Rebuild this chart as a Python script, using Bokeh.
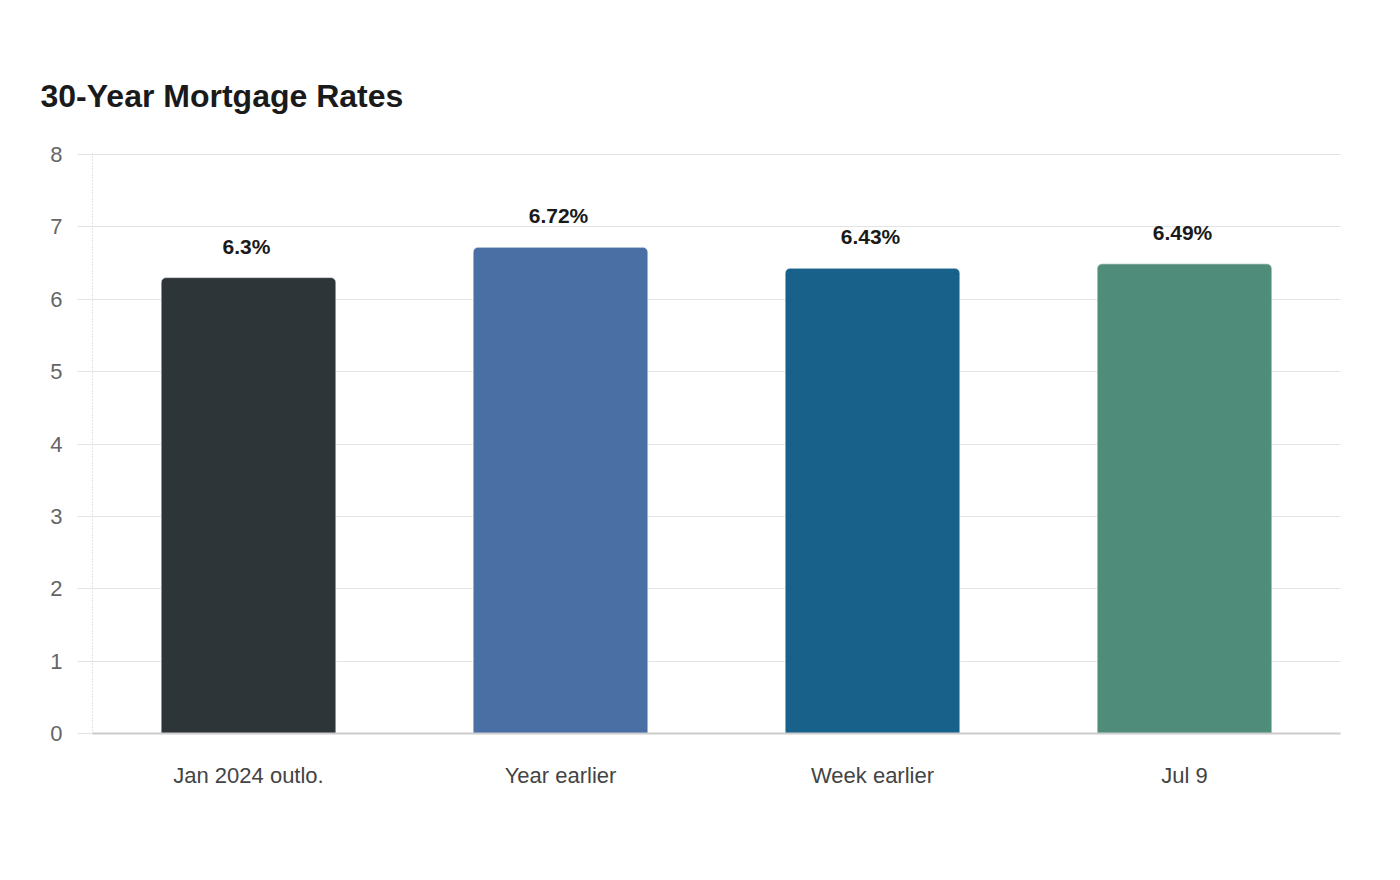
from bokeh.plotting import figure
from bokeh.models import ColumnDataSource, Range1d, FactorRange, FixedTicker
from bokeh.core.properties import value
from bokeh.embed import file_html
from bokeh.resources import INLINE

categories = ["Jan 2024 outlo.", "Year earlier", "Week earlier", "Jul 9"]
rates = [6.3, 6.72, 6.43, 6.49]
rate_labels = ["6.3%", "6.72%", "6.43%", "6.49%"]
bar_colors = ["#2e3538", "#4a6fa5", "#18618a", "#4f8c7a"]
y_ticks = [0, 1, 2, 3, 4, 5, 6, 7, 8]

src = ColumnDataSource(dict(cat=categories, rate=rates, label=rate_labels, color=bar_colors))

FONT = "Liberation Sans"

p = figure(
    width=1400, height=880,
    x_range=FactorRange(*categories, range_padding=0),
    y_range=Range1d(0, 8.015),
    output_backend="svg", toolbar_location=None,
    title="30-Year Mortgage Rates",
    min_border_left=92, min_border_right=60,
    min_border_top=153, min_border_bottom=147,
)
p.outline_line_color = None
p.background_fill_color = "white"
p.border_fill_color = "white"

p.title.text_font = FONT
p.title.text_font_size = "32px"
p.title.text_font_style = "bold"
p.title.text_color = "#1a1a1a"
p.title.align = "left"
p.title.offset = -52
p.title.standoff = 80

p.vbar(x="cat", top="rate", width=0.56, source=src, fill_color="color",
       line_color="white", line_alpha=0.6, line_width=1,
       border_radius=(5, 5, 0, 0))

p.text(x="cat", y="rate", text="label", source=src,
       text_align="center", text_baseline="bottom", y_offset=-20,
       x_offset=-2,
       text_font=value(FONT), text_font_size="21px", text_font_style="bold",
       text_color="#1a1a1a")

# horizontal grid
p.xgrid.grid_line_color = None
p.ygrid.grid_line_color = "#e3e3e3"
p.ygrid.grid_line_width = 1
p.ygrid.ticker = FixedTicker(ticks=y_ticks)

# y axis
ya = p.yaxis[0]
ya.ticker = FixedTicker(ticks=y_ticks)
ya.axis_line_color = "#c8c8c8"
ya.axis_line_dash = "1 2"
ya.axis_line_width = 1
ya.major_tick_line_color = "#e3e3e3"
ya.major_tick_in = 0
ya.major_tick_out = 15
ya.minor_tick_line_color = None
ya.major_label_standoff = 15
ya.major_label_text_font = FONT
ya.major_label_text_font_size = "22px"
ya.major_label_text_color = "#666666"

# x axis
xa = p.xaxis[0]
xa.axis_line_color = "#cccccc"
xa.axis_line_width = 2
xa.major_tick_line_color = None
xa.minor_tick_line_color = None
xa.major_label_standoff = 23
xa.major_label_text_font = FONT
xa.major_label_text_font_size = "22px"
xa.major_label_text_color = "#444444"

open("out.html", "w").write(file_html(p, INLINE))
